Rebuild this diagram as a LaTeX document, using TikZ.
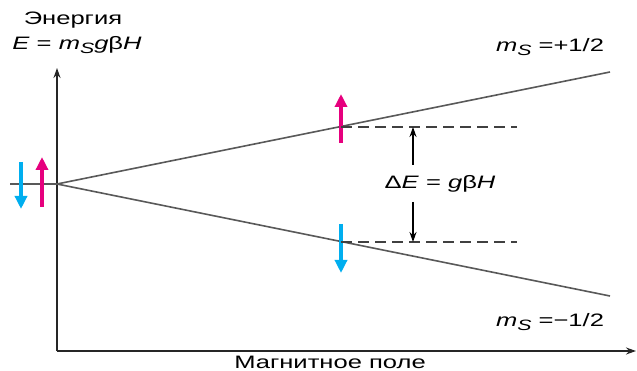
\documentclass[tikz,border=0pt]{standalone}
\usepackage{fontspec}
\setmainfont{Liberation Sans}[FakeStretch=1.42]
\usepackage{tikz}
\usetikzlibrary{arrows.meta,positioning}
\definecolor{spinup}{RGB}{230,0,126}
\definecolor{spindown}{RGB}{0,174,239}

\begin{document}
\begin{tikzpicture}[
    x=1pt, y=-1pt,
    axis/.style={line width=1.9pt, draw=black!85, -{Stealth[length=10pt,width=7pt]}},
    level/.style={line width=1.6pt, draw=black!65},
    gap/.style={line width=1.5pt, draw=black!75, dash pattern=on 11pt off 6pt},
    up/.style={line width=3.5pt, draw=spinup, -{Triangle[length=13pt,width=12pt]}},
    down/.style={line width=3.5pt, draw=spindown, -{Triangle[length=13pt,width=12pt]}},
    lbl/.style={inner sep=0pt, font=\fontsize{18}{20}\selectfont},
    >={Stealth[length=10pt,width=7pt]}
  ]
  \useasboundingbox (0,0) rectangle (637,371);

  % Axes
  \coordinate (orig) at (57,351);
  \coordinate (ytop) at (57,68);
  \coordinate (xend) at (636,351);
  \draw[axis] (orig) -- (ytop);
  \draw[axis] (orig) -- (xend);
  \node[lbl] (ylab) at (73,20) {Энергия};
  \node[lbl] (yform) at (77,45) {\textit{E} = \textit{m}\raisebox{-0.4ex}{\fontsize{15}{16}\selectfont\textit{S}}\textit{g}β\textit{H}};
  \node[lbl] (xlab) at (330,362) {Магнитное поле};

  % Levels
  \coordinate (split) at (57,184);
  \coordinate (zero) at (10,184);
  \coordinate (hi) at (610,72);
  \coordinate (lo) at (610,296);
  \draw[level] (zero) -- (split);
  \draw[level] (split) -- (hi);
  \draw[level] (split) -- (lo);
  \node[lbl] (mup) at (550,47) {\textit{m}\raisebox{-0.4ex}{\fontsize{15}{16}\selectfont\textit{S}} =+1/2};
  \node[lbl] (mdown) at (550,322) {\textit{m}\raisebox{-0.4ex}{\fontsize{15}{16}\selectfont\textit{S}} =−1/2};

  % Spins at zero field
  \coordinate (d0a) at (21,162);
  \coordinate (d0b) at (21,209);
  \coordinate (u0a) at (42,207);
  \coordinate (u0b) at (42,157);
  \draw[down] (d0a) -- (d0b);
  \draw[up] (u0a) -- (u0b);

  % Spins at field H
  \coordinate (u1a) at (341,143);
  \coordinate (u1b) at (341,94);
  \coordinate (d1a) at (341,224);
  \coordinate (d1b) at (341,273);
  \draw[up] (u1a) -- (u1b);
  \draw[down] (d1a) -- (d1b);

  % Splitting
  \coordinate (eu) at (341,127);
  \coordinate (ed) at (341,242);
  \coordinate (eu2) at (517,127);
  \coordinate (ed2) at (517,242);
  \draw[gap] (eu) -- (eu2);
  \draw[gap] (ed) -- (ed2);
  \node[lbl] (dE) at (440,184) {Δ\textit{E} = \textit{g}β\textit{H}};
  \coordinate (gu) at (413,165);
  \coordinate (gt) at (413,127);
  \coordinate (gd) at (413,202);
  \coordinate (gb) at (413,242);
  \draw[->, line width=1.4pt] (gu) -- (gt);
  \draw[->, line width=1.4pt] (gd) -- (gb);
\end{tikzpicture}
\end{document}
